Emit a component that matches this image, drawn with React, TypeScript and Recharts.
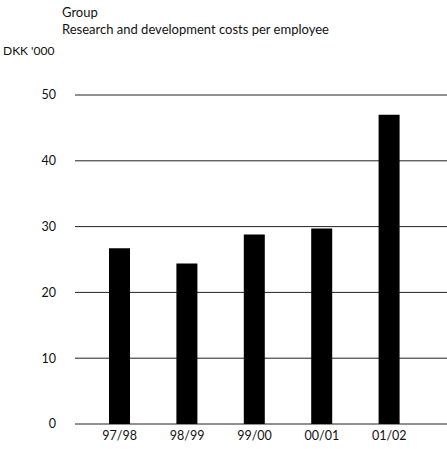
import { BarChart, Bar, XAxis, YAxis, CartesianGrid } from 'recharts'

const periods = ['97/98', '98/99', '99/00', '00/01', '01/02']
const costs = [26.7, 24.4, 28.8, 29.7, 47.0]
const yTicks = [0, 10, 20, 30, 40, 50]

const data = periods.map((p, i) => ({ period: p, cost: costs[i] }))

const font = 'Lato, "Open Sans", sans-serif'

export default function App() {
  return (
    <div style={{ position: 'absolute', left: 0, top: 0, width: 447, height: 449, background: '#fff', fontFamily: font, color: '#111' }}>
      <div style={{ position: 'absolute', left: 62, top: 4, fontSize: 13 }}>Group</div>
      <div style={{ position: 'absolute', left: 62, top: 21, fontSize: 13 }}>Research and development costs per employee</div>
      <div style={{ position: 'absolute', left: 3, top: 43, fontSize: 12 }}>DKK '000</div>
      <BarChart width={447} height={449} data={data} margin={{ top: 95, right: 0, bottom: 0, left: 0 }} barSize={21}>
        <CartesianGrid vertical={false} stroke="#222" strokeWidth={1} />
        <XAxis
          dataKey="period"
          axisLine={false}
          tickLine={false}
          tickSize={0}
          tickMargin={7}
          height={25}
          padding={{ left: 11, right: 24 }}
          tick={{ fill: '#111', fontSize: 12.5, fontFamily: font }}
        />
        <YAxis
          domain={[0, 50]}
          ticks={yTicks}
          width={75}
          axisLine={false}
          tickLine={false}
          tickSize={0}
          tickMargin={19}
          tick={{ fill: '#111', fontSize: 12.5, fontFamily: font }}
        />
        <Bar dataKey="cost" fill="#000" isAnimationActive={false} />
      </BarChart>
    </div>
  )
}
